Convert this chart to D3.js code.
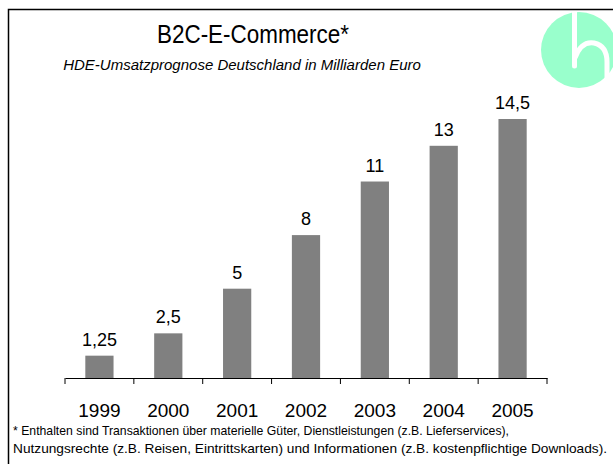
<!doctype html>
<html>
<head>
	<meta charset='utf-8'/>
	<script src="https://d3js.org/d3.v7.min.js"></script>
	<style>
		body { margin: 0; background: #fff; }
		svg { display: block; font-family: Arial, "Liberation Sans", sans-serif; }
	</style>
</head>
<body>
	<div id="chart"></div>
	<script>
		var years = ["1999", "2000", "2001", "2002", "2003", "2004", "2005"];
		var umsatz = [1.25, 2.5, 5, 8, 11, 13, 14.5];
		var labels = ["1,25", "2,5", "5", "8", "11", "13", "14,5"];
		var footnote = [
			"* Enthalten sind Transaktionen über materielle Güter, Dienstleistungen (z.B. Lieferservices),",
			"Nutzungsrechte (z.B. Reisen, Eintrittskarten) und Informationen (z.B. kostenpflichtige Downloads)."
		];
		var footnoteWidths = [496, 594];

		var width = 613, height = 464;

		var svg = d3.select("#chart").append("svg")
			.attr("width", width)
			.attr("height", height);

		// logo
		var logo = svg.append("g");
		logo.append("circle")
			.attr("cx", 579).attr("cy", 50).attr("r", 38)
			.attr("fill", "#99ffcc");
		logo.append("path")
			.attr("d", "M574.5,12V66")
			.attr("stroke", "#fff").attr("stroke-width", 5).attr("stroke-linecap", "round");
		logo.append("path")
			.attr("d", "M575,58C580,44 588,42 594,43C603,45 607,52 607,62V95")
			.attr("fill", "none")
			.attr("stroke", "#fff").attr("stroke-width", 5);

		// frame (only top and left edges visible)
		svg.append("path")
			.attr("d", "M8.5," + height + "V9.5H" + width)
			.attr("fill", "none")
			.attr("stroke", "#000")
			.attr("stroke-width", 1.5);

		svg.append("text")
			.attr("x", 253).attr("y", 43)
			.attr("text-anchor", "middle")
			.attr("textLength", 192)
			.attr("lengthAdjust", "spacingAndGlyphs")
			.style("font-size", "26px")
			.text("B2C-E-Commerce*");

		svg.append("text")
			.attr("x", 242).attr("y", 70)
			.attr("text-anchor", "middle")
			.style("font-size", "15px")
			.style("font-style", "italic")
			.text("HDE-Umsatzprognose Deutschland in Milliarden Euro");

		var x = d3.scaleBand()
			.domain(years)
			.range([65, 547])
			.paddingInner(0.59)
			.paddingOuter(0.295);

		var y = d3.scaleLinear()
			.domain([0, 14.5])
			.range([378, 119]);

		svg.selectAll("rect.bar")
			.data(umsatz)
			.enter().append("rect")
			.attr("class", "bar")
			.attr("x", function(d, i) { return x(years[i]); })
			.attr("y", function(d) { return y(d); })
			.attr("width", x.bandwidth())
			.attr("height", function(d) { return y(0) - y(d); })
			.attr("fill", "#808080");

		svg.selectAll("text.val")
			.data(umsatz)
			.enter().append("text")
			.attr("class", "val")
			.attr("x", function(d, i) { return x(years[i]) + x.bandwidth() / 2; })
			.attr("y", function(d) { return y(d) - 10; })
			.attr("text-anchor", "middle")
			.style("font-size", "18px")
			.text(function(d, i) { return labels[i]; });

		// axis line with ticks between categories
		var axis = d3.axisBottom(x).tickSize(0).tickFormat("");
		var ax = svg.append("g")
			.attr("transform", "translate(0,378)")
			.call(axis);
		ax.select(".domain").attr("stroke", "#000").attr("stroke-width", 1.2);
		var step = x.step();
		var bounds = d3.range(years.length + 1).map(function(i) { return 65 + i * step; });
		ax.selectAll("line.sep")
			.data(bounds)
			.enter().append("line")
			.attr("class", "sep")
			.attr("x1", function(d) { return d; })
			.attr("x2", function(d) { return d; })
			.attr("y1", 0).attr("y2", 6)
			.attr("stroke", "#000");

		svg.selectAll("text.year")
			.data(years)
			.enter().append("text")
			.attr("class", "year")
			.attr("x", function(d) { return x(d) + x.bandwidth() / 2; })
			.attr("y", 417)
			.attr("text-anchor", "middle")
			.style("font-size", "19px")
			.text(function(d) { return d; });

		svg.selectAll("text.fn")
			.data(footnote)
			.enter().append("text")
			.attr("class", "fn")
			.attr("x", 13)
			.attr("y", function(d, i) { return 435 + i * 18; })
			.attr("textLength", function(d, i) { return footnoteWidths[i]; })
			.attr("lengthAdjust", "spacingAndGlyphs")
			.style("font-size", "13px")
			.text(function(d) { return d; });
	</script>
</body>
</html>
